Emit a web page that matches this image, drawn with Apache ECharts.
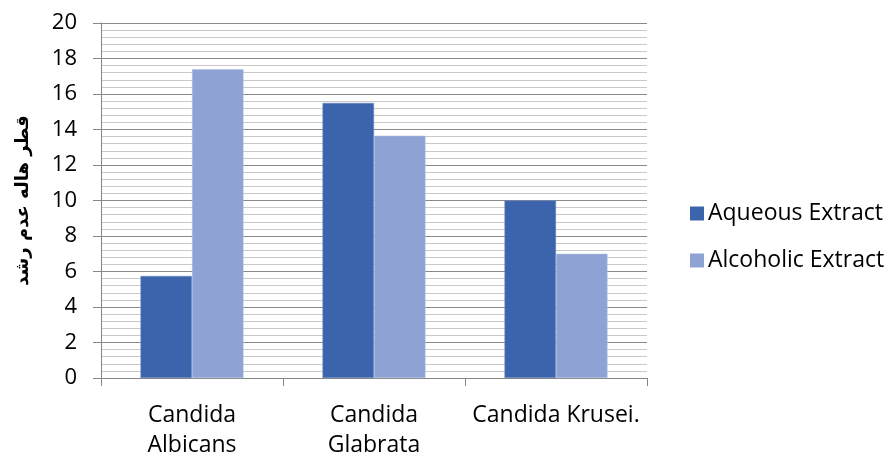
<!DOCTYPE html>
<html>
<head>
<meta charset="utf-8">
<script src="https://cdn.jsdelivr.net/npm/echarts@6/dist/echarts.min.js"></script>
<style>
  html, body { margin: 0; padding: 0; background: #fff; }
  #chart { width: 889px; height: 456px; }
</style>
</head>
<body>
<div id="chart"></div>
<script>
// 数据
const categories = ['Candida\nAlbicans', 'Candida\nGlabrata', 'Candida Krusei.']
const aqueousValues = [5.75, 15.5, 10]
const alcoholicValues = [17.4, 13.65, 7]
const seriesNames = ['Aqueous Extract', 'Alcoholic Extract']
const yAxisTitle = 'قطر هاله عدم رشد'

const chart = echarts.init(document.getElementById('chart'), null, { renderer: 'canvas' })

const option = {
  animation: false,
  textStyle: { fontFamily: 'Open Sans' },
  grid: { left: 101, right: 242, top: 23, bottom: 78, outerBoundsMode: 'none' },
  legend: {
    orient: 'vertical',
    left: 685,
    top: 197,
    itemWidth: 14,
    itemHeight: 14,
    itemGap: 24,
    icon: 'rect',
    itemStyle: { borderWidth: 0 },
    textStyle: { fontSize: 23, color: '#000', fontFamily: 'Open Sans', padding: [0, 0, 0, -1] },
    data: seriesNames
  },
  xAxis: {
    type: 'category',
    data: categories,
    axisLine: { lineStyle: { color: '#868686' } },
    axisTick: { show: true, length: 8, lineStyle: { color: '#868686' } },
    axisLabel: { interval: 0, fontSize: 23, color: '#000', margin: 22, lineHeight: 30, fontFamily: 'Open Sans' }
  },
  yAxis: {
    type: 'value',
    min: 0,
    max: 20,
    interval: 2,
    name: yAxisTitle,
    nameLocation: 'middle',
    nameGap: 69,
    nameRotate: 90,
    nameTextStyle: { fontSize: 18, fontWeight: 'bold', color: '#000', fontFamily: 'DejaVu Sans' },
    axisLine: { show: true, lineStyle: { color: '#868686' } },
    axisTick: { show: true, length: 8, lineStyle: { color: '#868686' } },
    axisLabel: { fontSize: 22, color: '#000', margin: 24, fontFamily: 'Open Sans' },
    splitLine: { lineStyle: { color: '#8a8a8a', width: 1 } },
    minorTick: { show: false, splitNumber: 5 },
    minorSplitLine: { show: true, lineStyle: { color: '#c9c9c9', width: 1 } }
  },
  series: [
    {
      name: seriesNames[0],
      type: 'bar',
      data: aqueousValues,
      barWidth: '28.3%',
      barGap: '0%',
      itemStyle: { color: '#3c64ad', borderColor: '#6f89c4', borderWidth: 0.5 }
    },
    {
      name: seriesNames[1],
      type: 'bar',
      data: alcoholicValues,
      barWidth: '28.3%',
      itemStyle: { color: '#8ea3d4', borderColor: '#b0c0e4', borderWidth: 0.5 }
    }
  ]
}

chart.setOption(option)
</script>
</body>
</html>
